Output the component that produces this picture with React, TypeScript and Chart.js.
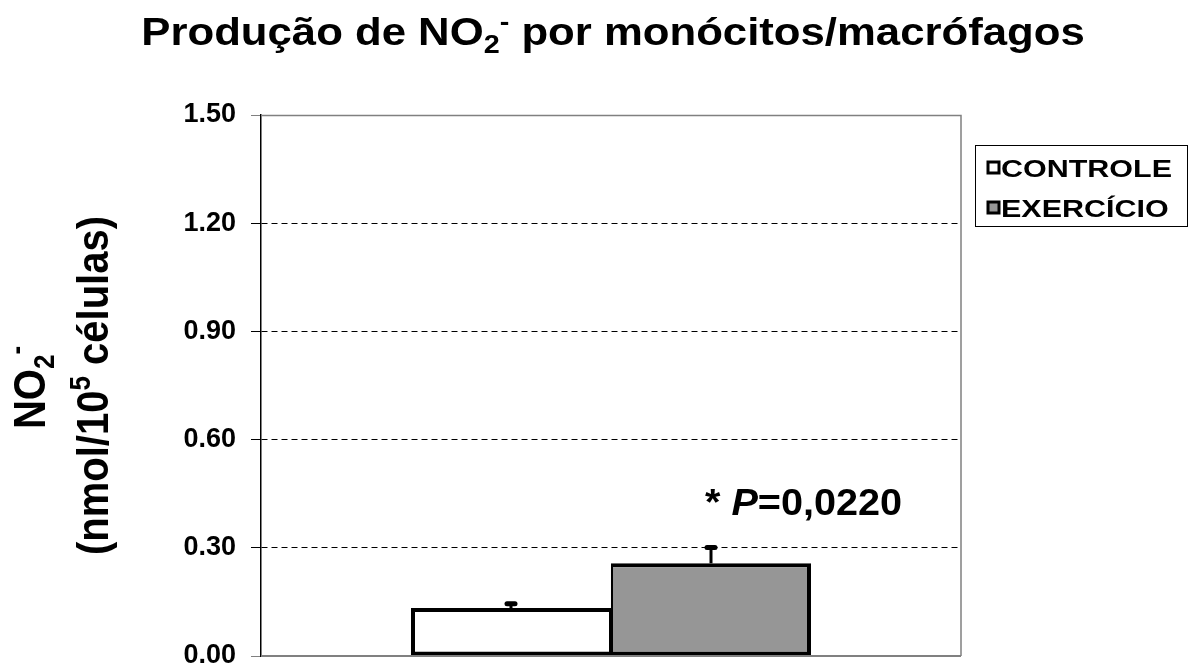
import React, { useEffect, useRef } from "react";
import { Chart, registerables } from "chart.js";

Chart.register(...registerables);

const categories = ["NO2"];
const seriesNames = ["CONTROLE", "EXERCÍCIO"];
const controleValues = [0.133];
const exercicioValues = [0.257];
const controleErrors = [0.012];
const exercicioErrors = [0.044];
const yTicks = [0, 0.3, 0.6, 0.9, 1.2, 1.5];
const yTickLabels = ["0.00", "0.30", "0.60", "0.90", "1.20", "1.50"];
const seriesColors = ["#ffffff", "#969696"];
const annotationParts = ["* ", "P", "=0,0220"];

const FONT = "Arial, 'Liberation Sans', sans-serif";

type Part = { t: string; size: number; dy?: number; italic?: boolean };

function drawRich(
  ctx: CanvasRenderingContext2D,
  parts: Part[],
  x: number,
  y: number,
  align: "left" | "center",
  sx = 1,
  rotate = false,
  sy = 1
) {
  ctx.save();
  ctx.textBaseline = "alphabetic";
  ctx.textAlign = "left";
  ctx.fillStyle = "#000";
  let w = 0;
  const widths: number[] = [];
  for (const p of parts) {
    ctx.font = `${p.italic ? "italic " : ""}bold ${p.size}px ${FONT}`;
    const m = ctx.measureText(p.t).width;
    widths.push(m);
    w += m;
  }
  ctx.translate(x, y);
  if (rotate) ctx.rotate(-Math.PI / 2);
  ctx.scale(sx, sy);
  let cx = align === "center" ? -w / 2 : 0;
  parts.forEach((p, i) => {
    ctx.font = `${p.italic ? "italic " : ""}bold ${p.size}px ${FONT}`;
    ctx.fillText(p.t, cx, p.dy || 0);
    cx += widths[i];
  });
  ctx.restore();
}

const errors = [controleErrors, exercicioErrors];

const decorPlugin = {
  id: "decor",
  afterDatasetsDraw(chart: any) {
    const ctx: CanvasRenderingContext2D = chart.ctx;
    const { left, right, top, bottom } = chart.chartArea;
    const yScale = chart.scales.y;
    // frame
    ctx.save();
    ctx.strokeStyle = "#808080";
    ctx.lineWidth = 1.5;
    ctx.beginPath();
    ctx.moveTo(left, top + 0.5);
    ctx.lineTo(right, top + 0.5);
    ctx.lineTo(right, bottom);
    ctx.stroke();
    ctx.lineWidth = 2;
    ctx.beginPath();
    ctx.moveTo(left, bottom);
    ctx.lineTo(right, bottom);
    ctx.stroke();
    ctx.restore();

    // error bars
    chart.data.datasets.forEach((ds: any, di: number) => {
      const meta = chart.getDatasetMeta(di);
      meta.data.forEach((bar: any, i: number) => {
        const v = ds.data[i];
        const e = errors[di][i];
        const yTop = yScale.getPixelForValue(v + e);
        ctx.save();
        ctx.strokeStyle = "#000";
        ctx.lineWidth = 3;
        ctx.beginPath();
        ctx.moveTo(bar.x, bar.y);
        ctx.lineTo(bar.x, yTop);
        ctx.stroke();
        ctx.lineWidth = 5;
        ctx.lineCap = "round";
        ctx.beginPath();
        ctx.moveTo(bar.x - 4, yTop);
        ctx.lineTo(bar.x + 4, yTop);
        ctx.stroke();
        ctx.restore();
      });
    });
  },
  afterDraw(chart: any) {
    const ctx: CanvasRenderingContext2D = chart.ctx;
    const { left, right, top, bottom } = chart.chartArea;
    const yScale = chart.scales.y;
    const midX = (left + right) / 2;
    const midY = (top + bottom) / 2;

    // title
    drawRich(
      ctx,
      [
        { t: "Produção de NO", size: 38 },
        { t: "2", size: 25, dy: 8 },
        { t: "-", size: 25, dy: -15 },
        { t: " por monócitos/macrófagos", size: 38 },
      ],
      midX + 2,
      45,
      "center",
      1.15
    );

    // y axis title
    drawRich(
      ctx,
      [
        { t: "NO", size: 40 },
        { t: "2", size: 26, dy: 8 },
        { t: "-", size: 26, dy: -17 },
      ],
      45,
      midY + 2,
      "center",
      1.0,
      true,
      1.1
    );
    drawRich(
      ctx,
      [
        { t: "(nmol/10", size: 40 },
        { t: "5", size: 26, dy: -16 },
        { t: " células)", size: 40 },
      ],
      108,
      midY,
      "center",
      1.0,
      true,
      1.1
    );

    // annotation
    const ay = yScale.getPixelForValue(0.39);
    drawRich(
      ctx,
      [
        { t: annotationParts[0], size: 37 },
        { t: annotationParts[1], size: 37, italic: true },
        { t: annotationParts[2], size: 37 },
      ],
      705,
      ay,
      "left",
      1.07
    );

    // legend
    const lx = right + 14;
    const ly = top + 30;
    ctx.save();
    ctx.strokeStyle = "#000";
    ctx.lineWidth = 1;
    ctx.strokeRect(lx + 0.5, ly + 0.5, 212, 81);
    seriesNames.forEach((name, i) => {
      const cy = ly + 23 + i * 40;
      ctx.fillStyle = seriesColors[i];
      ctx.fillRect(lx + 13, cy - 6, 11, 11);
      ctx.strokeStyle = "#000";
      ctx.lineWidth = 3;
      ctx.strokeRect(lx + 13, cy - 6, 11, 11);
      drawRich(ctx, [{ t: name, size: 24 }], lx + 26, cy + 9, "left", 1.27);
    });
    ctx.restore();
  },
};

export default function App() {
  const ref = useRef<HTMLCanvasElement | null>(null);
  useEffect(() => {
    if (!ref.current) return;
    const chart = new Chart(ref.current, {
      type: "bar",
      data: {
        labels: categories,
        datasets: [
          {
            label: seriesNames[0],
            data: controleValues,
            backgroundColor: seriesColors[0],
            borderColor: "#000",
            borderWidth: { top: 4, left: 4, bottom: 4, right: 2 },
            borderSkipped: false,
          },
          {
            label: seriesNames[1],
            data: exercicioValues,
            backgroundColor: seriesColors[1],
            borderColor: "#000",
            borderWidth: { top: 4, left: 2, bottom: 4, right: 4 },
            borderSkipped: false,
          },
        ],
      },
      options: {
        responsive: false,
        animation: false,
        devicePixelRatio: 1,
        layout: { padding: { left: 0, top: 115, right: 228, bottom: 14 } },
        categoryPercentage: 400 / 700,
        barPercentage: 1,
        plugins: { legend: { display: false }, tooltip: { enabled: false }, title: { display: false } },
        scales: {
          x: { display: false },
          y: {
            min: 0,
            max: 1.5,
            afterFit(scale: any) {
              scale.width = 261;
              scale.paddingTop = 0;
              scale.paddingBottom = 0;
            },
            afterBuildTicks(scale: any) {
              scale.ticks = yTicks.map((v) => ({ value: v }));
            },
            ticks: {
              color: "#000",
              padding: 15,
              font: { family: FONT, size: 27, weight: "bold" },
              callback: (_v: any, i: number) => yTickLabels[i],
            },
            grid: {
              color: (c: any) =>
                c.tick && (c.tick.value === 0 || c.tick.value === 1.5) ? "rgba(0,0,0,0)" : "#000",
              lineWidth: 1,
              tickLength: 10,
              tickColor: (c: any) =>
                c.tick && (c.tick.value === 0 || c.tick.value === 1.5) ? "#808080" : "#000",
              tickBorderDash: [],
            },
            border: { display: true, color: "#000", width: 1.5, dash: [6, 4] },
          },
        },
      } as any,
      plugins: [decorPlugin],
    });
    return () => chart.destroy();
  }, []);
  return (
    <div style={{ position: "fixed", left: 0, top: 0, width: 1189, height: 670, background: "#fff" }}>
      <canvas ref={ref} width={1189} height={670} style={{ width: 1189, height: 670 }} />
    </div>
  );
}
